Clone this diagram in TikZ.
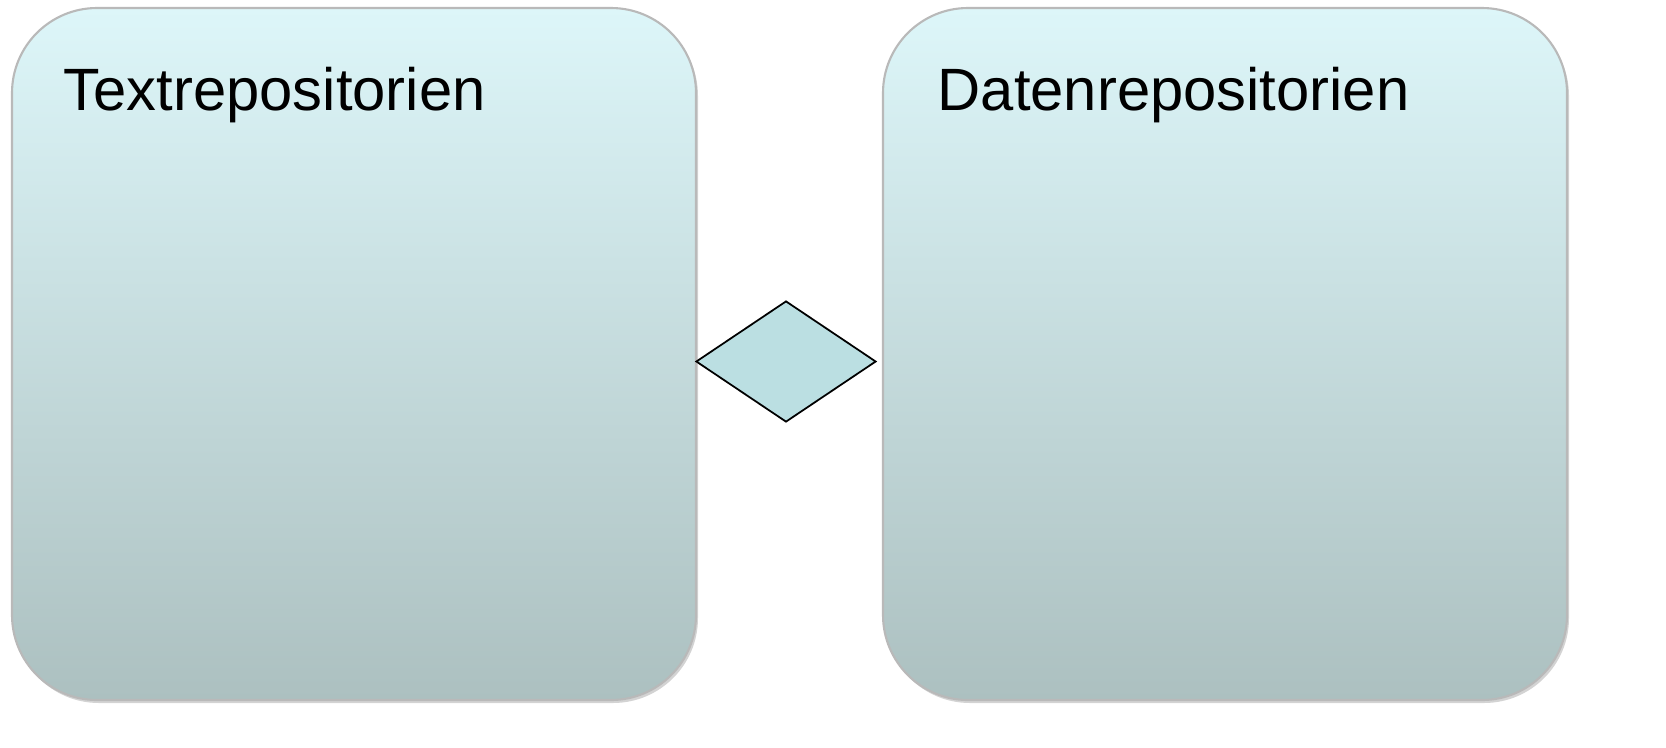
\documentclass[tikz,border=0pt]{standalone}
\usepackage{fontspec}
\setmainfont{Liberation Sans}
\usetikzlibrary{
    shapes.geometric,
    positioning,
    shadows
}

\begin{document}
\begin{tikzpicture}[
    repo/.style={rectangle, rounded corners=0.85cm, minimum width=6.84cm, minimum height=6.92cm,
        top color={rgb,255:red,221;green,246;blue,249}, bottom color={rgb,255:red,172;green,192;blue,192},
        draw=gray!55, line width=0.6pt, drop shadow={shadow xshift=0.02cm, shadow yshift=-0.03cm, opacity=0.35}},
    title/.style={anchor=base west, inner sep=0pt, font=\fontsize{17}{20}\selectfont},
    link/.style={diamond, draw=black, line width=0.5pt, inner sep=0pt, minimum width=1.8cm, minimum height=1.21cm,
        fill={rgb,255:red,187;green,223;blue,226}}
]
    \useasboundingbox (0, 0) rectangle (16.66, -7.47);
    \node[repo] (txt) at (3.54, -3.54) {};
    \node[repo] (dat) at (12.25, -3.54) {};
    \node[link] (rel) at (7.86, -3.615) {};
    \node[title] (txtlabel) at (0.63, -1.10) {Textrepositorien};
    \node[title] (datlabel) at (9.37, -1.10) {Datenrepositorien};
\end{tikzpicture}
\end{document}
